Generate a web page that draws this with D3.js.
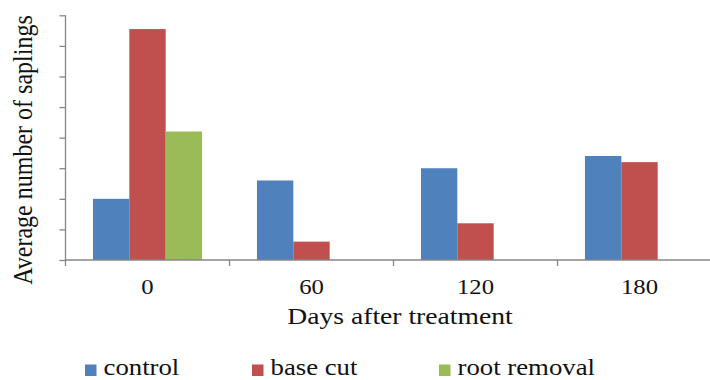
<!DOCTYPE html>
<html><head><meta charset="utf-8">
<script src="https://cdn.jsdelivr.net/npm/d3@7"></script>
<style>html,body{margin:0;padding:0;background:#fff;} svg{display:block;}</style>
</head><body>
<svg id="c" width="710" height="380"></svg>
<script>
const categories = ["0", "60", "120", "180"];
const seriesNames = ["control", "base cut", "root removal"];
const control = [2.0, 2.6, 3.0, 3.4];
const baseCut = [7.55, 0.6, 1.2, 3.2];
const rootRemoval = [4.2, 0, 0, 0];
const yTicks = [0, 1, 2, 3, 4, 5, 6, 7, 8];
const colors = ["#4F81BD", "#C0504D", "#9BBB59"];

const seriesValues = [control, baseCut, rootRemoval];
const svg = d3.select("#c");
const font = "'Liberation Serif', 'Times New Roman', serif";
const stretch = 1.15;
const axisColor = "#868686";

const x0 = d3.scaleBand().domain(categories).range([65.5, 721.5]).paddingInner(0).paddingOuter(0);
const x1 = d3.scaleBand().domain(seriesNames).range([0, x0.bandwidth()]).paddingInner(0).paddingOuter(0.755);
const y = d3.scaleLinear().domain([0, 8]).range([260, 15.3]);

// bars
categories.forEach((c, ci) => {
  seriesNames.forEach((s, si) => {
    const v = seriesValues[si][ci];
    if (v <= 0) return;
    svg.append("rect")
      .attr("x", x0(c) + x1(s))
      .attr("y", y(v))
      .attr("width", x1.bandwidth())
      .attr("height", y(0) - y(v))
      .attr("fill", colors[si]);
  });
});

// y axis
const yAxis = d3.axisLeft(y).tickValues(yTicks).tickSize(6).tickFormat("");
const gy = svg.append("g").attr("transform", "translate(65.5,0)").call(yAxis);
gy.select(".domain").attr("stroke", axisColor).attr("stroke-width", 1.3).attr("d", "M0,15.3V266");
gy.selectAll(".tick line").attr("stroke", axisColor).attr("stroke-width", 1.3);

// x axis
const gx = svg.append("g").attr("transform", "translate(0,260)");
gx.append("line").attr("x1", 65.5).attr("x2", 710).attr("y1", 0).attr("y2", 0)
  .attr("stroke", axisColor).attr("stroke-width", 1.3);
categories.forEach(c => {
  const bx = x0(c) + x0.bandwidth();
  gx.append("line").attr("x1", bx).attr("x2", bx).attr("y1", 0).attr("y2", 6)
    .attr("stroke", axisColor).attr("stroke-width", 1.3);
  gx.append("text")
    .attr("transform", `translate(${x0(c) + x0.bandwidth() / 2},34) scale(${stretch},1)`)
    .attr("text-anchor", "middle")
    .attr("font-family", font).attr("font-size", 21.5).attr("fill", "#111")
    .text(c);
});

// axis titles
svg.append("text")
  .attr("transform", `translate(400,324) scale(${stretch},1)`)
  .attr("text-anchor", "middle")
  .attr("font-family", font).attr("font-size", 24).attr("fill", "#111")
  .text("Days after treatment");

svg.append("text")
  .attr("transform", `translate(31.5,150) scale(${stretch},1) rotate(-90)`)
  .attr("text-anchor", "middle")
  .attr("font-family", font).attr("font-size", 24).attr("fill", "#111")
  .text("Average number of saplings");

// legend
const legendX = [85, 252, 439];
seriesNames.forEach((s, i) => {
  svg.append("rect").attr("x", legendX[i]).attr("y", 364.5).attr("width", 11.5).attr("height", 11.5).attr("fill", colors[i]);
  svg.append("text")
    .attr("transform", `translate(${legendX[i] + 18.5},375) scale(1.19,1)`)
    .attr("font-family", font).attr("font-size", 22.5).attr("fill", "#111")
    .text(s);
});
</script>
</body></html>
